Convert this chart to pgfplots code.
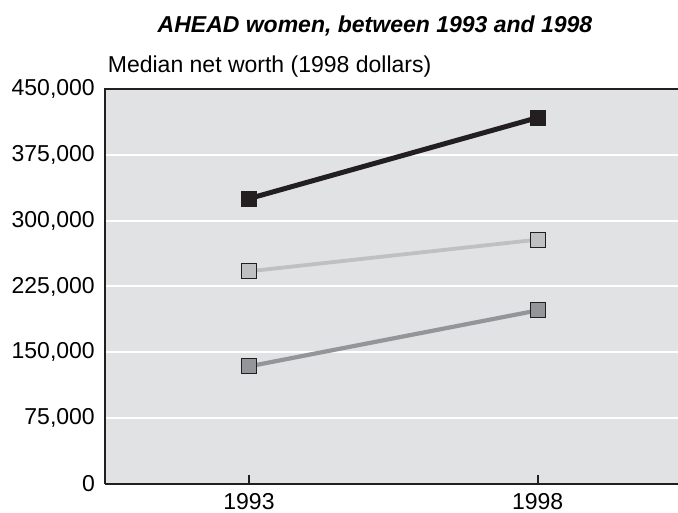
\documentclass[border=0pt]{standalone}
\usepackage{pgfplots}
\pgfplotsset{compat=1.18}
\usepackage{fontspec}
\setmainfont{Liberation Sans}
\definecolor{bg}{HTML}{E1E2E3}
\definecolor{dk}{HTML}{231F20}
\definecolor{lt}{HTML}{BFC0C2}
\definecolor{md}{HTML}{939598}
\begin{document}
\fontsize{23}{27}\selectfont
\begin{tikzpicture}
\begin{axis}[
  name=ax, at={(0,0)}, anchor=south west,
  scale only axis, width=573pt, height=395pt,
  xmin=1990.506, xmax=2000.43, ymin=0, ymax=450000,
  scaled y ticks=false, scaled x ticks=false,
  axis x line*=bottom, axis y line*=left,
  axis line style={line width=2.4pt, dk},
  axis background/.style={fill=bg},
  xtick={1993,1998}, xticklabels={1993,1998},
  ytick={0,75000,150000,225000,300000,375000,450000},
  yticklabels={0,{75,000},{150,000},{225,000},{300,000},{375,000},{450,000}},
  ymajorgrids, major grid style={white, line width=2pt},
  tick align=inside, major tick length=9pt,
  xtick style={line width=1.6pt, dk},
  ytick style={draw=none},
  yticklabel style={inner sep=0pt, xshift=-10pt, font=\fontsize{23}{27}\selectfont},
  xticklabel style={inner sep=0pt, yshift=-9pt, font=\fontsize{23}{27}\selectfont},
  clip=false,
]
\addplot[dk, line width=5pt, mark=square*, mark size=7.5pt, mark options={fill=dk, draw=dk, line width=1.2pt}] coordinates {(1993,325100) (1998,417400)};
\addplot[lt, line width=3.8pt, mark=square*, mark size=7.5pt, mark options={fill=lt, draw=dk, line width=1.2pt}] coordinates {(1993,242300) (1998,278400)};
\addplot[md, line width=4.2pt, mark=square*, mark size=7.5pt, mark options={fill=md, draw=dk, line width=1.2pt}] coordinates {(1993,134000) (1998,197800)};
\end{axis}
\draw[line width=2.4pt, dk] ([xshift=-1.2pt]ax.north west) -- (ax.north east);
\node[anchor=base west, inner sep=0pt] at (2.7pt,411pt) {Median net worth (1998 dollars)};
\node[anchor=base, inner sep=0pt, font=\fontsize{23}{27}\selectfont\bfseries\itshape] at (270pt,451pt) {AHEAD women, between 1993 and 1998};
\pgfresetboundingbox
\path[use as bounding box] (-105pt,-29pt) rectangle (573pt,484pt);
\end{tikzpicture}
\end{document}
